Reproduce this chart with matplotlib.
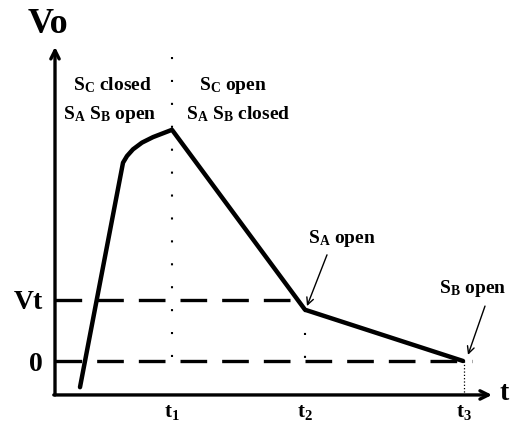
import matplotlib
matplotlib.use("Agg")
import matplotlib.pyplot as plt

plt.rcParams["font.family"] = "Liberation Serif"
plt.rcParams["font.weight"] = "bold"
plt.rcParams["mathtext.fontset"] = "custom"
plt.rcParams["mathtext.rm"] = "Liberation Serif:bold"
plt.rcParams["mathtext.it"] = "Liberation Serif:bold"
plt.rcParams["mathtext.bf"] = "Liberation Serif:bold"

# switching instants and threshold (arbitrary units)
t1, t2, t3 = 1.17, 2.50, 4.09
vt = 1.0

# output voltage waveform
curve_t = [0.25, 0.68, 0.72, 0.78, 0.87, 0.98, 1.17, 2.50, 4.08]
curve_v = [-0.43, 3.25, 3.36, 3.47, 3.58, 3.67, 3.79, 0.84, 0.0]

# axis extents
x_axis_v = -0.557
x_axis_end = 4.37
y_axis_top = 5.15

fig = plt.figure(figsize=(5.24, 4.26), dpi=100)
ax = fig.add_axes([0, 0, 1, 1])
ax.set_xlim(-0.55, 4.69)
ax.set_ylim(-1.066, 5.918)
ax.axis("off")

# axes with arrow heads
arrow_kw = dict(arrowstyle="->,head_length=0.6,head_width=0.3", lw=2.4, color="black",
                shrinkA=0, shrinkB=0)
ax.annotate("", xy=(0, y_axis_top), xytext=(0, x_axis_v), arrowprops=arrow_kw)
ax.annotate("", xy=(x_axis_end, x_axis_v), xytext=(-0.012, x_axis_v), arrowprops=arrow_kw)

# dashed reference levels
ax.plot([0, 2.42], [vt, vt], color="black", lw=2.4, dashes=(8.0, 4.5))
ax.plot([0, 4.17], [0, 0], color="black", lw=2.4, dashes=(8.0, 4.5))

# dotted time markers
ax.plot([t1, t1], [4.98, -0.2], color="black", lw=1.5, dashes=(1, 10))
ax.plot([t2, t2], [0.84, -0.2], color="black", lw=1.5, dashes=(1, 10))
ax.plot([t3, t3], [0, x_axis_v], color="black", lw=0.9, ls=":")

# waveform
ax.plot(curve_t, curve_v, color="black", lw=3.2, solid_joinstyle="round",
        solid_capstyle="round")

# labels
ax.text(-0.07, 5.38, "Vo", fontsize=26, ha="center", va="baseline")
ax.text(4.49, x_axis_v - 0.08, "t", fontsize=20, ha="center", va="baseline")
ax.text(-0.12, 0.85, "Vt", fontsize=20, ha="right", va="baseline")
ax.text(-0.12, -0.16, "0", fontsize=20, ha="right", va="baseline")
for tt, lab in zip([t1, t2, t3], ["t$_1$", "t$_2$", "t$_3$"]):
    ax.text(tt, -0.92, lab, fontsize=15, ha="center", va="baseline")

ax.text(0.57, 4.44, "S$_\\mathregular{C}$ closed", fontsize=14, ha="center", va="baseline")
ax.text(0.55, 3.97, "S$_\\mathregular{A}$ S$_\\mathregular{B}$ open", fontsize=14,
        ha="center", va="baseline")
ax.text(1.78, 4.44, "S$_\\mathregular{C}$ open", fontsize=14, ha="center", va="baseline")
ax.text(1.83, 3.97, "S$_\\mathregular{A}$ S$_\\mathregular{B}$ closed", fontsize=14,
        ha="center", va="baseline")
ax.text(2.87, 1.93, "S$_\\mathregular{A}$ open", fontsize=14, ha="center", va="baseline")
ax.text(4.18, 1.11, "S$_\\mathregular{B}$ open", fontsize=14, ha="center", va="baseline")

small_kw = dict(arrowstyle="->,head_length=0.5,head_width=0.25", lw=1.0, color="black",
                shrinkA=0, shrinkB=0)
ax.annotate("", xy=(2.52, 0.90), xytext=(2.72, 1.74), arrowprops=small_kw)
ax.annotate("", xy=(4.13, 0.10), xytext=(4.30, 0.90), arrowprops=small_kw)

fig.savefig("out.png", dpi=100)
